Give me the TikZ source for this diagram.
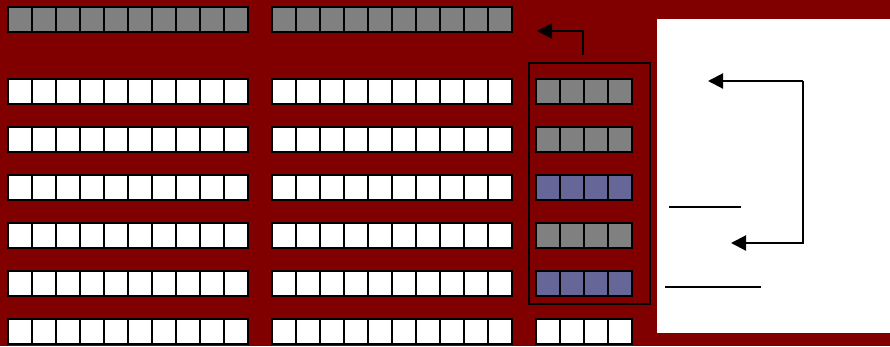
\documentclass[tikz,border=0pt]{standalone}
\usetikzlibrary{arrows.meta}
\definecolor{bgred}{HTML}{800000}
\definecolor{cellgray}{HTML}{808080}
\definecolor{cellblue}{HTML}{666699}
\begin{document}
\begin{tikzpicture}[
  x=0.02cm,y=-0.02cm,
  cell/.style={draw,line width=1.6pt,minimum width=0.48cm,minimum height=0.5cm,inner sep=0pt},
  arrow/.style={-{Triangle[length=0.3cm,width=0.3cm]},line width=1.2pt},
  every path/.style={line width=1.2pt}]
\useasboundingbox (0,0) rectangle (890,346);
\fill[bgred] (0,0) rectangle (890,346);
% top row
\foreach \i in {0,...,9} {
  \node[cell,fill=cellgray] (t-l\i) at (20+24*\i,19.5) {};
  \node[cell,fill=cellgray] (t-m\i) at (284+24*\i,19.5) {};
}
% lower rows
\foreach \r/\y/\c in {1/91.5/cellgray,2/139.5/cellgray,3/187.5/cellblue,
    4/235.5/cellgray,5/283.5/cellblue,6/331.5/white} {
  \foreach \i in {0,...,9} {
    \node[cell,fill=white] (r\r-l\i) at (20+24*\i,\y) {};
    \node[cell,fill=white] (r\r-m\i) at (284+24*\i,\y) {};
  }
  \foreach \i in {0,...,3}
    \node[cell,fill=\c] (r\r-r\i) at (548+24*\i,\y) {};
}
\node[draw,line width=1.3pt,minimum width=2.42cm,minimum height=4.82cm,inner sep=0pt]
  (stack) at (589.5,183.5) {};
\coordinate (up0) at (583,55);
\coordinate (up1) at (537,31);
\draw[arrow] (up0) |- (up1);
% white panel
\node[fill=white,minimum width=4.66cm,minimum height=6.28cm,inner sep=0pt]
  (panel) at (773.5,176) {};
\coordinate (p0) at (803,81);
\coordinate (p1) at (708,81);
\coordinate (p2) at (803,243);
\coordinate (p3) at (731,243);
\draw[arrow] (p0) -- (p1);
\draw[arrow] (p0) -- (p2) -- (p3);
\coordinate (q0) at (669,207);
\coordinate (q1) at (741,207);
\coordinate (q2) at (665,287);
\coordinate (q3) at (761,287);
\draw (q0) -- (q1);
\draw (q2) -- (q3);
\end{tikzpicture}
\end{document}
